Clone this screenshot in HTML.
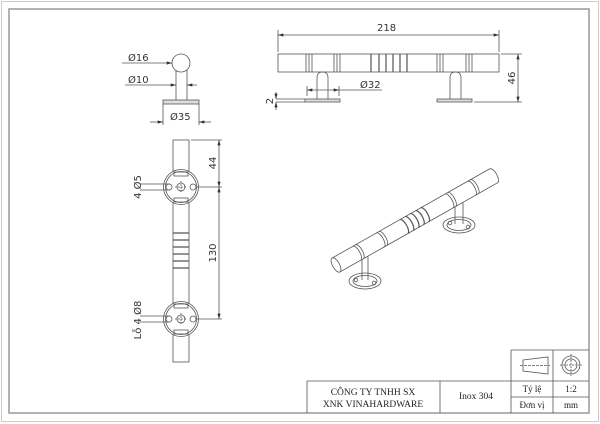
<!DOCTYPE html>
<html><head><meta charset="utf-8"><style>
html,body{margin:0;padding:0;background:#fff;}
svg{display:block;}
text{font-family:"DejaVu Sans","Liberation Sans",sans-serif;fill:#333;}
.s{font-family:"Liberation Serif",serif;fill:#222;}
</style></head><body>
<svg width="600" height="424" viewBox="0 0 600 424" xmlns="http://www.w3.org/2000/svg">
<defs>
<marker id="a" viewBox="0 0 10 6" refX="10" refY="3" markerWidth="7" markerHeight="4" orient="auto-start-reverse"><path d="M0,0L10,3L0,6z" fill="#333"/></marker>
</defs>
<rect x="1.5" y="1.5" width="597" height="420" fill="none" stroke="#ccc" stroke-width="1"/>
<rect x="9" y="9" width="580" height="404" fill="none" stroke="#999" stroke-width="1.5"/>

<g stroke="#555" stroke-width="0.8" fill="none">
<!-- title block -->
<line x1="307" y1="381" x2="589" y2="381"/>
<line x1="511" y1="350" x2="589" y2="350"/>
<line x1="511" y1="350" x2="511" y2="413"/>
<line x1="553" y1="350" x2="553" y2="413"/>
<line x1="307" y1="381" x2="307" y2="413"/>
<line x1="440" y1="381" x2="440" y2="413"/>
<line x1="511" y1="397" x2="589" y2="397"/>
<path d="M523,360 L548,357 L548,374 L523,371 Z"/>
<line x1="520" y1="365.5" x2="550" y2="365.5" stroke-dasharray="3,1"/>
<circle cx="571" cy="365" r="9"/><circle cx="571" cy="365" r="6"/>
<line x1="560" y1="365" x2="582" y2="365" stroke-dasharray="2,1"/>
<line x1="571" y1="354" x2="571" y2="376" stroke-dasharray="2,1"/>

<!-- left side view -->
<circle cx="181" cy="63" r="9"/>
<line x1="176" y1="70" x2="176" y2="100"/><line x1="187" y1="70" x2="187" y2="100"/>
<rect x="163" y="100" width="36" height="4" fill="#ddd"/>
<line x1="122" y1="63" x2="172" y2="63" marker-end="url(#a)"/>
<line x1="125" y1="85" x2="176" y2="85" marker-end="url(#a)"/>
<line x1="197" y1="85" x2="187" y2="85" marker-end="url(#a)"/>
<line x1="163" y1="104" x2="163" y2="125"/><line x1="199" y1="104" x2="199" y2="125"/>
<line x1="150" y1="122" x2="163" y2="122" marker-end="url(#a)"/>
<line x1="211" y1="122" x2="199" y2="122" marker-end="url(#a)"/>

<!-- top side view -->
<rect x="278" y="54" width="221" height="18"/>
<path d="M306,54v18M309,54v18M312,54v18M334,54v18M337,54v18M340,54v18M437,54v18M440,54v18M443,54v18M466,54v18M469,54v18M472,54v18"/>
<path d="M371,54v18M379,54v18M386,54v18M393,54v18M400,54v18M407,54v18" stroke-width="1.2"/>
<path d="M317,99V78q0,-6 5.5,-6q5.5,0 5.5,6V99"/>
<path d="M450,99V78q0,-6 5.5,-6q5.5,0 5.5,6V99"/>
<rect x="305" y="99" width="35" height="3" fill="#ddd"/>
<rect x="437" y="99" width="35" height="3" fill="#ddd"/>
<line x1="278" y1="30" x2="278" y2="52"/><line x1="499" y1="30" x2="499" y2="52"/>
<line x1="278" y1="35" x2="499" y2="35" marker-start="url(#a)" marker-end="url(#a)"/>
<line x1="501" y1="54" x2="522" y2="54"/><line x1="474" y1="102" x2="522" y2="102"/>
<line x1="518" y1="54" x2="518" y2="102" marker-start="url(#a)" marker-end="url(#a)"/>
<line x1="307" y1="86" x2="307" y2="96"/><line x1="339" y1="86" x2="339" y2="96"/>
<line x1="307" y1="90" x2="339" y2="90" marker-start="url(#a)" marker-end="url(#a)"/>
<line x1="339" y1="90" x2="382" y2="90"/>
<line x1="276" y1="99" x2="305" y2="99"/><line x1="276" y1="102" x2="305" y2="102"/>
<line x1="276" y1="92" x2="276" y2="99" marker-end="url(#a)"/>
<line x1="276" y1="110" x2="276" y2="102" marker-end="url(#a)"/>

<!-- front vertical view -->
<rect x="173" y="140" width="16" height="222"/>
<path d="M173,233h16M173,240h16M173,247h16M173,254h16M173,261h16M173,268h16" stroke-width="1.2"/>
<g id="b1">
<circle cx="181" cy="187" r="17.5" fill="#fff"/>
<circle cx="181" cy="187" r="15.5"/>
<rect x="174" y="172" width="14" height="4"/><rect x="174" y="198" width="14" height="4"/>
<circle cx="169" cy="187" r="3"/><circle cx="193" cy="187" r="3"/>
<circle cx="181" cy="187" r="4"/>
<line x1="175" y1="187" x2="187" y2="187" stroke-dasharray="2,1"/>
<line x1="181" y1="181" x2="181" y2="193" stroke-dasharray="2,1"/>
</g>
<use href="#b1" y="132"/>
<line x1="191" y1="140" x2="222" y2="140"/>
<line x1="196" y1="187" x2="222" y2="187"/><line x1="196" y1="319" x2="222" y2="319"/>
<line x1="219" y1="140" x2="219" y2="187" marker-start="url(#a)" marker-end="url(#a)"/>
<line x1="219" y1="187" x2="219" y2="319" marker-start="url(#a)" marker-end="url(#a)"/>
<line x1="140" y1="184" x2="170" y2="184"/><line x1="140" y1="190" x2="170" y2="190"/>
<line x1="140" y1="316" x2="170" y2="316"/><line x1="140" y1="322" x2="170" y2="322"/>

<!-- isometric: posts first -->
<ellipse cx="365" cy="281" rx="16" ry="8"/>
<ellipse cx="365" cy="281" rx="12" ry="5.5"/>
<path d="M362,254V280M368,251V280" />
<circle cx="356" cy="280" r="1.8"/><circle cx="374" cy="283" r="1.8"/>
<ellipse cx="459" cy="225" rx="16" ry="8"/>
<ellipse cx="459" cy="225" rx="12" ry="5.5"/>
<path d="M455,203V224M463,199V224"/>
<circle cx="450" cy="223" r="1.8"/><circle cx="468" cy="227" r="1.8"/>
<g transform="translate(336,265) rotate(-29.5)">
<path d="M0,-8 H181 a3.5,8 0 0 1 0,16 H0 Z" fill="#fff"/>
<ellipse cx="0" cy="0" rx="3.5" ry="8" fill="#fff"/>
<path d="M24,-8a3,8 0 0 1 0,16M27,-8a3,8 0 0 1 0,16M51,-8a3,8 0 0 1 0,16M54,-8a3,8 0 0 1 0,16M130,-8a3,8 0 0 1 0,16M133,-8a3,8 0 0 1 0,16M156,-8a3,8 0 0 1 0,16M159,-8a3,8 0 0 1 0,16"/>
<path d="M78,-8a3,8 0 0 1 0,16M84,-8a3,8 0 0 1 0,16M90,-8a3,8 0 0 1 0,16M96,-8a3,8 0 0 1 0,16M102,-8a3,8 0 0 1 0,16" stroke-width="1.2"/>
</g>
</g>

<g font-size="10">
<text x="128" y="61">Ø16</text>
<text x="128" y="83">Ø10</text>
<text x="170" y="120">Ø35</text>
<text x="377" y="31">218</text>
<text x="360" y="88">Ø32</text>
<text transform="translate(515,78) rotate(-90)" text-anchor="middle">46</text>
<text transform="translate(273,101) rotate(-90)" text-anchor="middle">2</text>
<text transform="translate(216,163) rotate(-90)" text-anchor="middle">44</text>
<text transform="translate(216,253) rotate(-90)" text-anchor="middle">130</text>
<text transform="translate(141,187) rotate(-90)" text-anchor="middle">4 Ø5</text>
<text transform="translate(141,320) rotate(-90)" text-anchor="middle">Lỗ 4 Ø8</text>
</g>
<g class="s" font-size="9.5">
<text class="s" x="373" y="395" text-anchor="middle">CÔNG TY TNHH SX</text>
<text class="s" x="373" y="407" text-anchor="middle">XNK VINAHARDWARE</text>
<text class="s" x="476" y="399" text-anchor="middle">Inox 304</text>
<text class="s" x="532" y="392" text-anchor="middle" font-size="9">Tỷ lệ</text>
<text class="s" x="532" y="408" text-anchor="middle" font-size="9">Đơn vị</text>
<text class="s" x="571" y="392" text-anchor="middle" font-size="9">1:2</text>
<text class="s" x="571" y="408" text-anchor="middle" font-size="9">mm</text>
</g>
</svg>
</body></html>
